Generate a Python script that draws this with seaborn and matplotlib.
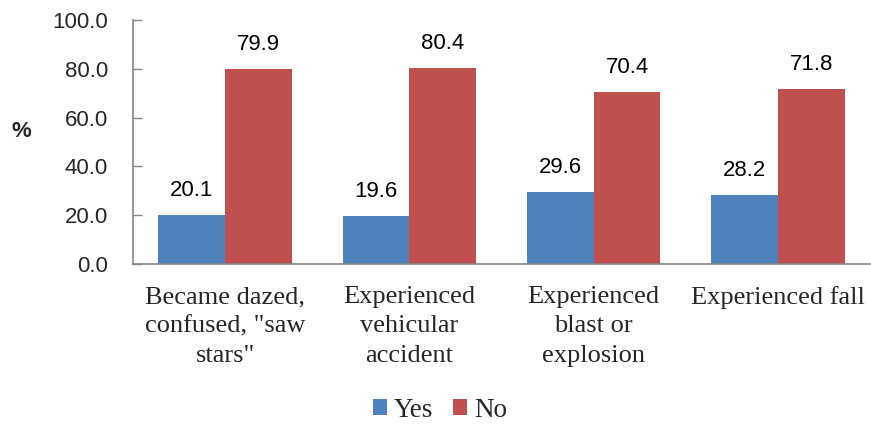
import matplotlib
matplotlib.use("Agg")
import matplotlib.pyplot as plt
import seaborn as sns
import pandas as pd

categories = ['Became dazed,\nconfused, "saw\nstars"',
              'Experienced\nvehicular\naccident',
              'Experienced\nblast or\nexplosion',
              'Experienced fall']
yes_values = [20.1, 19.6, 29.6, 28.2]
no_values = [79.9, 80.4, 70.4, 71.8]
series = ['Yes', 'No']
colors = ['#4F81BD', '#C0504D']
y_ticks = [0, 20, 40, 60, 80, 100]

df = pd.DataFrame({
    'category': categories * 2,
    'value': yes_values + no_values,
    'series': ['Yes'] * len(categories) + ['No'] * len(categories),
})

sns.set_theme(style='white')
plt.rcParams['font.family'] = ['Liberation Sans', 'DejaVu Sans']

fig = plt.figure(figsize=(8.71, 4.25), dpi=100)
ax = fig.add_axes([0.1527, 0.3788, 0.8463, 0.5741])

sns.barplot(data=df, x='category', y='value', hue='series', hue_order=series,
            palette=colors, width=0.724, ax=ax, saturation=1, legend=True,
            edgecolor='none', linewidth=0)

for cont in ax.containers:
    ax.bar_label(cont, fmt='%.1f', padding=10, fontsize=16,
                 family='Liberation Sans', color='black')

ax.set_ylim(0, 100)
ax.set_xlim(-0.5, len(categories) - 0.5)
ax.set_yticks(y_ticks)
ax.set_yticklabels([f'{v:.1f}' for v in y_ticks], fontsize=16,
                   family='Liberation Sans')
ax.set_xticks(range(len(categories)))
ax.set_xticklabels(categories, fontsize=19, family='Liberation Serif',
                   linespacing=1.42)
ax.set_xlabel('')
ax.set_ylabel('%', rotation=0, fontsize=16, fontweight='bold',
              family='Liberation Sans')
ax.yaxis.set_label_coords(-0.152, 0.5)

for s in ['top', 'right']:
    ax.spines[s].set_visible(False)
for s in ['left', 'bottom']:
    ax.spines[s].set_color('#868686')
    ax.spines[s].set_linewidth(1.2)

ax.tick_params(axis='y', direction='in', length=6.5, width=1, color='#868686',
               pad=18, left=True)
ax.tick_params(axis='x', length=0, pad=16)
ax.grid(False)

handles, labels = ax.get_legend_handles_labels()
ax.legend_.remove()
fig.legend(handles, labels, loc='center', bbox_to_anchor=(0.505, 0.035),
           ncol=2, frameon=False, prop={'family': 'Liberation Serif', 'size': 19.5},
           handlelength=0.55, handleheight=0.55, handletextpad=0.25,
           columnspacing=0.7, borderaxespad=0)

fig.savefig('out.png', dpi=100)
